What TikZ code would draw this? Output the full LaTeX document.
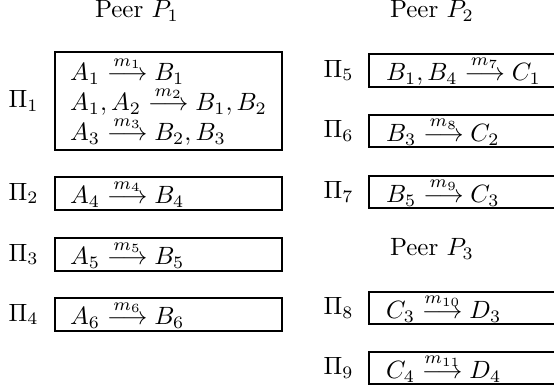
\documentclass[tikz,border=0pt]{standalone}
\usepackage{amsmath}
\newcommand{\marr}[1]{\stackrel{#1}{\longrightarrow}}
\newcommand{\lline}[1]{\makebox[78.8pt][l]{$#1$}}
\newcommand{\rline}[1]{\makebox[77.2pt][l]{$#1$}}
\begin{document}
\begin{tikzpicture}[x=0.4pt,y=-0.4pt,
  rule/.style={draw,line width=0.9pt,anchor=west,align=left,inner ysep=0pt},
  lrule/.style={rule,inner xsep=6pt},
  rrule/.style={rule,inner xsep=6.8pt},
  lbl/.style={inner sep=0pt},
  peer/.style={inner sep=0pt}]
\useasboundingbox (0,0) rectangle (554,389);
\clip (0,0) rectangle (554,389);
% Peer headers
\node[peer] (p1) at (137,11) {Peer $P_1$};
\node[peer] (p2) at (432,11) {Peer $P_2$};
\node[peer] (p3) at (432,249) {Peer $P_3$};
% Left column
\node[lrule,minimum height=39.2pt] (b1) at (54,101)
  {\lline{A_1 \marr{m_1} B_1}\\ \lline{A_1, A_2 \marr{m_2} B_1, B_2}\\ \lline{A_3 \marr{m_3} B_2, B_3}};
\node[lbl] (l1) at (23.5,101) {$\Pi_1$};
\node[lrule,minimum height=13.2pt] (b2) at (54,193.5) {\lline{A_4 \marr{m_4} B_4}};
\node[lbl] (l2) at (23.5,193.5) {$\Pi_2$};
\node[lrule,minimum height=13.2pt] (b3) at (54,254.5) {\lline{A_5 \marr{m_5} B_5}};
\node[lbl] (l3) at (23.5,254.5) {$\Pi_3$};
\node[lrule,minimum height=13.2pt] (b4) at (54,314.5) {\lline{A_6 \marr{m_6} B_6}};
\node[lbl] (l4) at (23.5,314.5) {$\Pi_4$};
% Right column
\node[rrule,minimum height=13.2pt] (b5) at (368,70.5) {\rline{B_1, B_4 \marr{m_7} C_1}};
\node[lbl] (l5) at (338.5,70.5) {$\Pi_5$};
\node[rrule,minimum height=12.8pt] (b6) at (368,131) {\rline{B_3 \marr{m_8} C_2}};
\node[lbl] (l6) at (338.5,131) {$\Pi_6$};
\node[rrule,minimum height=12.8pt] (b7) at (368,192) {\rline{B_5 \marr{m_9} C_3}};
\node[lbl] (l7) at (338.5,192) {$\Pi_7$};
\node[rrule,minimum height=12.8pt] (b8) at (368,308) {\rline{C_3 \marr{m_{10}} D_3}};
\node[lbl] (l8) at (338.5,308) {$\Pi_8$};
\node[rrule,minimum height=12.8pt] (b9) at (368,368) {\rline{C_4 \marr{m_{11}} D_4}};
\node[lbl] (l9) at (338.5,368) {$\Pi_9$};
\end{tikzpicture}
\end{document}
